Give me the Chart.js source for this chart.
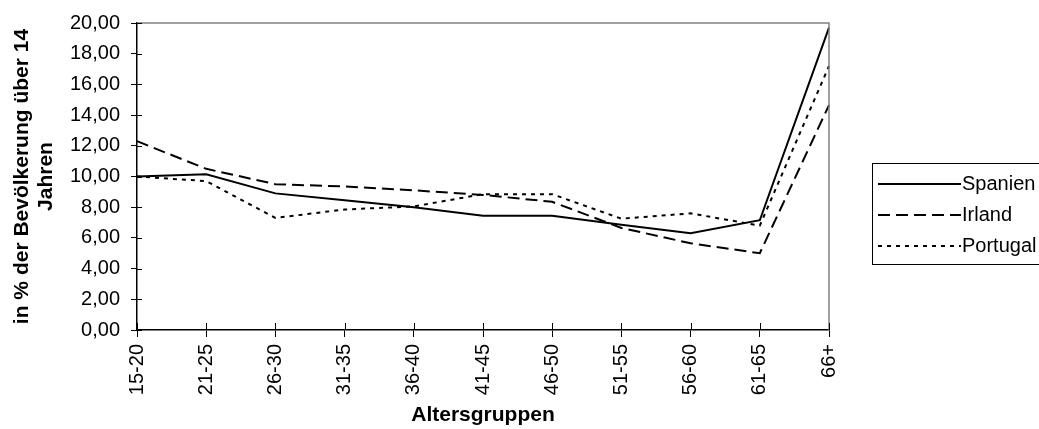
<!DOCTYPE html>
<html>
<head>
<meta charset="utf-8">
<script src="https://cdn.jsdelivr.net/npm/chart.js@4/dist/chart.umd.min.js"></script>
<style>
  body { margin: 0; background: #fff; }
  #wrap { width: 1039px; height: 429px; }
</style>
</head>
<body>
<div id="wrap"><canvas id="ageChart" width="1039" height="429"></canvas></div>
<script>
// chart data
const ageGroups = ['15-20', '21-25', '26-30', '31-35', '36-40', '41-45', '46-50', '51-55', '56-60', '61-65', '66+'];
const spanien  = [10.00, 10.15, 8.90, 8.45, 8.00, 7.45, 7.45, 6.85, 6.30, 7.15, 19.70];
const irland   = [12.30, 10.50, 9.50, 9.35, 9.10, 8.80, 8.35, 6.65, 5.65, 5.00, 14.65];
const portugal = [10.00, 9.70, 7.30, 7.85, 8.05, 8.85, 8.85, 7.25, 7.60, 6.80, 17.20];
const seriesNames = ['Spanien', 'Irland', 'Portugal'];
const yTitle = ['in % der Bevölkerung über 14', 'Jahren'];
const xTitle = 'Altersgruppen';

const FONT = 'Arial, "Liberation Sans", sans-serif';

// gray frame on top/right + inner half of the axis ticks
const framePlugin = {
    id: 'frame',
    afterDraw(chart) {
        const { ctx, chartArea: a, scales } = chart;
        ctx.save();
        ctx.strokeStyle = '#808080';
        ctx.lineWidth = 1.5;
        ctx.beginPath();
        ctx.moveTo(a.left, a.top);
        ctx.lineTo(a.right, a.top);
        ctx.lineTo(a.right, a.bottom);
        ctx.stroke();

        ctx.strokeStyle = '#000';
        ctx.lineWidth = 1;
        ctx.beginPath();
        scales.y.ticks.forEach((t, i) => {
            const y = Math.round(scales.y.getPixelForTick(i)) + 0.5;
            ctx.moveTo(a.left, y);
            ctx.lineTo(a.left + 5, y);
        });
        scales.x.ticks.forEach((t, i) => {
            const x = Math.round(scales.x.getPixelForTick(i)) + 0.5;
            ctx.moveTo(x, a.bottom);
            ctx.lineTo(x, a.bottom - 7);
        });
        ctx.stroke();
        ctx.restore();
    }
};

// boxed legend on the right, samples use the dataset dash styles
const legendPlugin = {
    id: 'boxLegend',
    afterDraw(chart) {
        const ctx = chart.ctx;
        ctx.save();
        ctx.strokeStyle = '#000';
        ctx.lineWidth = 1;
        ctx.strokeRect(872.5, 163.5, 200, 101);
        ctx.font = '20px ' + FONT;
        ctx.textBaseline = 'middle';
        ctx.fillStyle = '#000';
        chart.data.datasets.forEach((ds, i) => {
            const y = 184 + i * 31;
            ctx.beginPath();
            ctx.setLineDash(ds.borderDash || []);
            ctx.lineWidth = ds.borderWidth;
            ctx.moveTo(878, y);
            ctx.lineTo(961, y);
            ctx.stroke();
            ctx.setLineDash([]);
            ctx.fillText(ds.label, 962, y);
        });
        ctx.restore();
    }
};

const ctx = document.getElementById('ageChart').getContext('2d');
new Chart(ctx, {
    type: 'line',
    data: {
        labels: ageGroups,
        datasets: [
            { label: seriesNames[0], data: spanien, borderColor: '#000', borderWidth: 2, pointRadius: 0, tension: 0 },
            { label: seriesNames[1], data: irland, borderColor: '#000', borderWidth: 2, borderDash: [12, 6], pointRadius: 0, tension: 0 },
            { label: seriesNames[2], data: portugal, borderColor: '#000', borderWidth: 2, borderDash: [4, 5], pointRadius: 0, tension: 0 }
        ]
    },
    options: {
        responsive: false,
        animation: false,
        layout: { padding: { left: 0, top: 23, right: 210, bottom: 0 } },
        plugins: { legend: { display: false }, tooltip: { enabled: false } },
        scales: {
            x: {
                offset: false,
                grid: { drawOnChartArea: false, drawTicks: true, tickLength: 7, color: '#000' },
                border: { color: '#000', width: 1.5 },
                ticks: {
                    color: '#000', font: { family: FONT, size: 20 },
                    minRotation: 90, maxRotation: 90, autoSkip: false, padding: 7
                },
                title: {
                    display: true, text: xTitle, color: '#000',
                    font: { family: FONT, size: 21, weight: 'bold', lineHeight: 1.2 },
                    padding: { top: 0, bottom: 1 }
                },
                afterFit: s => { s.height = 99; }
            },
            y: {
                min: 0,
                max: 20,
                grid: { drawOnChartArea: false, drawTicks: true, tickLength: 6, color: '#000' },
                border: { color: '#000', width: 1.5 },
                ticks: {
                    stepSize: 2, color: '#000', padding: 11,
                    font: { family: FONT, size: 20 },
                    callback: v => v.toFixed(2).replace('.', ',')
                },
                title: {
                    display: true, text: yTitle, color: '#000',
                    font: { family: FONT, size: 21, weight: 'bold', lineHeight: 1.143 },
                    padding: { top: 10, bottom: 0 }
                },
                afterFit: s => { s.width = 137; }
            }
        }
    },
    plugins: [framePlugin, legendPlugin]
});
</script>
</body>
</html>
